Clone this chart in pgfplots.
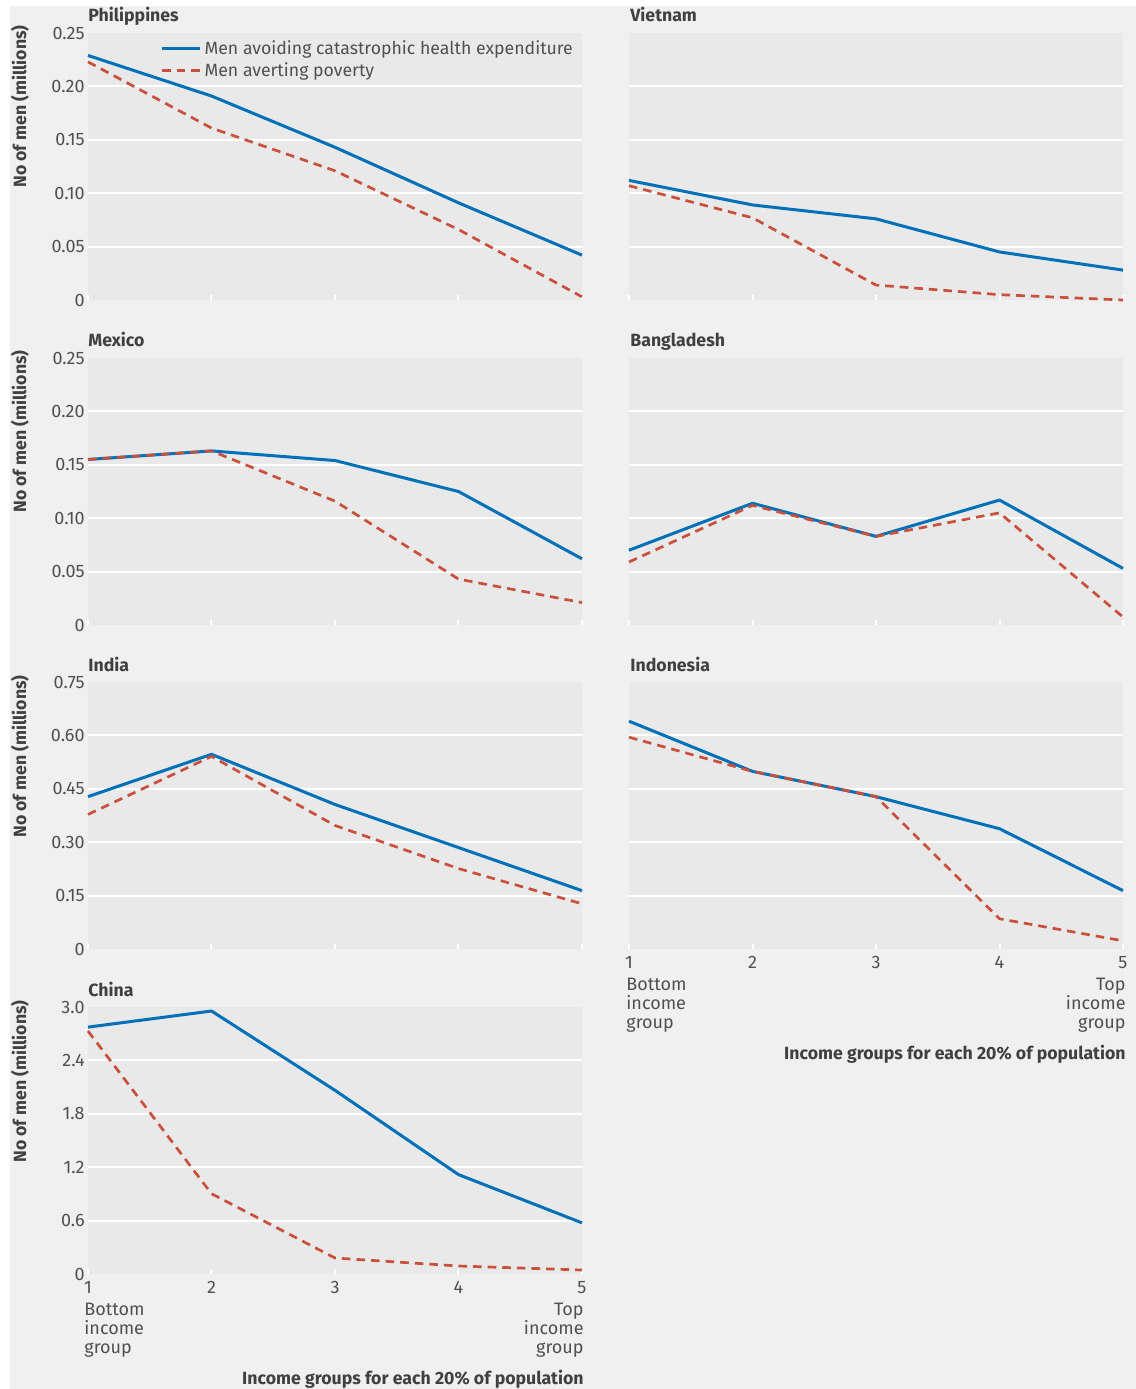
\documentclass[border=0pt]{standalone}
\usepackage{fontspec}
\setmainfont{Fira Sans}
\usepackage{pgfplots}
\pgfplotsset{compat=1.18}

\definecolor{pagebg}{RGB}{240,240,240}
\definecolor{plotbg}{RGB}{233,233,233}
\definecolor{lineblue}{RGB}{0,112,184}
\definecolor{linered}{RGB}{200,80,60}
\definecolor{txt}{RGB}{80,80,80}
\definecolor{ttl}{RGB}{64,64,64}

\newcommand\tickfont{\fontsize{9}{9.3}\selectfont}
\newcommand\legfont{\fontsize{8.85}{10}\selectfont}
\newcommand\ttlfont{\fontsize{8.85}{10}\selectfont\bfseries}

\pgfplotsset{
  panel/.style={
    scale only axis, width=247pt, height=133.5pt,
    anchor=south west,
    xmin=1, xmax=5, xtick={1,2,3,4,5}, xticklabels={},
    axis background/.style={fill=plotbg},
    axis line style={draw=none},
    tick align=inside, xtick pos=left, ytick pos=left,
    major tick length=2.5pt,
    xtick style={draw=white, line width=1pt},
    ytick style={draw=none},
    major grid style={white, line width=1pt},
    tick label style={font=\tickfont, text=txt},
    yticklabel style={inner xsep=1.5pt},
    /pgf/number format/assume math mode=true,
    clip=false,
  },
  gridat/.style={extra y ticks={#1}, extra y tick labels={},
    extra y tick style={grid=major, tick style={draw=none}}},
  blueline/.style={lineblue, line width=1.5pt, line join=round, no markers},
  redline/.style={linered, line width=1.35pt, dash pattern=on 4.3pt off 3pt, line join=round, no markers},
  small/.style={ymin=0, ymax=0.25, ytick={0,0.05,0.1,0.15,0.2,0.25},
    gridat={0.05,0.1,0.15,0.2}},
}

\begin{document}
\begin{tikzpicture}
\fill[white] (0,0) rectangle (568pt,-694.5pt);
\fill[pagebg] (5pt,-3pt) rectangle (568pt,-694.5pt);
\useasboundingbox (0,0) rectangle (568pt,-694.5pt);

% Philippines
\begin{axis}[panel, small, at={(44pt,-150pt)},
  yticklabels={0,0.05,0.10,0.15,0.20,0.25},
  legend style={at={(axis description cs:0.146,0.985)}, anchor=north west,
    draw=none, fill=none, font=\legfont, text=txt, inner sep=0pt,
    row sep=-0.5pt, nodes={inner sep=1.5pt}},
  legend cell align=left,
  legend image code/.code={\draw[#1] (0pt,0pt) -- (19pt,0pt);}]
\addplot[blueline] coordinates {(1,0.229)(2,0.191)(3,0.143)(4,0.091)(5,0.042)};
\addlegendentry{Men avoiding catastrophic health expenditure}
\addplot[redline] coordinates {(1,0.223)(2,0.161)(3,0.121)(4,0.066)(5,0.003)};
\addlegendentry{Men averting poverty}
\end{axis}

% Vietnam
\begin{axis}[panel, small, at={(314.5pt,-150pt)}, yticklabels={}]
\addplot[blueline] coordinates {(1,0.112)(2,0.089)(3,0.076)(4,0.045)(5,0.028)};
\addplot[redline] coordinates {(1,0.107)(2,0.077)(3,0.014)(4,0.005)(5,0.0)};
\end{axis}

% Mexico
\begin{axis}[panel, small, at={(44pt,-312.5pt)},
  yticklabels={0,0.05,0.10,0.15,0.20,0.25}]
\addplot[blueline] coordinates {(1,0.155)(2,0.163)(3,0.154)(4,0.125)(5,0.062)};
\addplot[redline] coordinates {(1,0.155)(2,0.163)(3,0.116)(4,0.043)(5,0.021)};
\end{axis}

% Bangladesh
\begin{axis}[panel, small, at={(314.5pt,-312.5pt)}, yticklabels={}]
\addplot[blueline] coordinates {(1,0.070)(2,0.114)(3,0.083)(4,0.117)(5,0.053)};
\addplot[redline] coordinates {(1,0.059)(2,0.112)(3,0.083)(4,0.105)(5,0.0075)};
\end{axis}

% India
\begin{axis}[panel, at={(44pt,-474.5pt)}, ymin=0, ymax=0.75,
  ytick={0,0.15,0.3,0.45,0.6,0.75}, gridat={0.15,0.3,0.45,0.6},
  yticklabels={0,0.15,0.30,0.45,0.60,0.75}]
\addplot[blueline] coordinates {(1,0.428)(2,0.547)(3,0.406)(4,0.285)(5,0.164)};
\addplot[redline] coordinates {(1,0.378)(2,0.541)(3,0.347)(4,0.226)(5,0.127)};
\end{axis}

% Indonesia
\begin{axis}[panel, at={(314.5pt,-474.5pt)}, ymin=0, ymax=0.75,
  ytick={0,0.15,0.3,0.45,0.6,0.75}, gridat={0.15,0.3,0.45,0.6},
  yticklabels={}, xticklabels={1,2,3,4,5}]
\addplot[blueline] coordinates {(1,0.640)(2,0.499)(3,0.428)(4,0.338)(5,0.164)};
\addplot[redline] coordinates {(1,0.595)(2,0.499)(3,0.428)(4,0.085)(5,0.023)};
\end{axis}

% China
\begin{axis}[panel, at={(44pt,-637pt)}, ymin=0, ymax=3,
  ytick={0,0.6,1.2,1.8,2.4,3}, gridat={0.6,1.2,1.8,2.4},
  yticklabels={0,0.6,1.2,1.8,2.4,3.0}, xticklabels={1,2,3,4,5}]
\addplot[blueline] coordinates {(1,2.774)(2,2.955)(3,2.064)(4,1.117)(5,0.575)};
\addplot[redline] coordinates {(1,2.730)(2,0.902)(3,0.180)(4,0.090)(5,0.045)};
\end{axis}

% panel titles
\foreach \t/\x/\y in {Philippines/44/-10.5, Vietnam/315/-10.5, Mexico/44/-173,
  Bangladesh/315/-173, India/44/-335.5, Indonesia/315/-335.5, China/44/-498}
  \node[anchor=base west, inner sep=0pt, text=ttl, font=\ttlfont] at (\x pt,\y pt) {\t};

% y axis labels
\foreach \y in {-12.5,-175,-337.5,-500}
  \node[rotate=90, anchor=east, inner sep=0pt, text=ttl, font=\ttlfont] at (10pt,\y pt) {No of men (millions)};

% x axis extra labels
\foreach \xl/\xr/\y in {313/563/-489, 42/292/-651.5} {
  \node[anchor=north west, align=left, inner sep=0pt, text=txt, font=\tickfont] at (\xl pt,\y pt) {Bottom\\income\\group};
  \node[anchor=north east, align=right, inner sep=0pt, text=txt, font=\tickfont] at (\xr pt,\y pt) {Top\\income\\group};
}
\node[anchor=east, inner sep=0pt, text=ttl, font=\ttlfont] at (563pt,-527pt) {Income groups for each 20\% of population};
\node[anchor=east, inner sep=0pt, text=ttl, font=\ttlfont] at (292pt,-689.5pt) {Income groups for each 20\% of population};
\end{tikzpicture}
\end{document}
